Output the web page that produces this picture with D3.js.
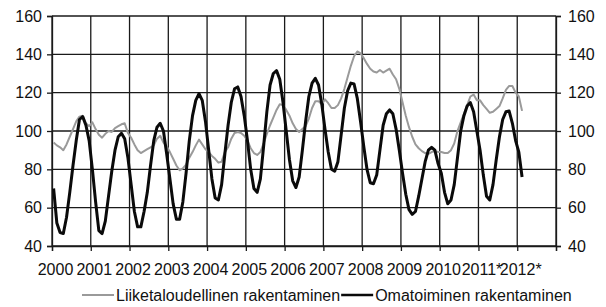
<!DOCTYPE html>
<html>
<head>
<meta charset="utf-8">
<script src="https://cdn.jsdelivr.net/npm/d3@7"></script>
<style>
html,body{margin:0;padding:0;background:#fff;}
svg{display:block;font-family:"Liberation Sans",Arial,sans-serif;}
</style>
</head>
<body>
<svg id="chart" width="606" height="307"></svg>
<script>
// ---- data ----
const yearLabels = ["2000","2001","2002","2003","2004","2005","2006","2007","2008","2009","2010","2011*","2012*"];
const yTicks = [40,60,80,100,120,140,160];
const seriesNames = ["Liiketaloudellinen rakentaminen","Omatoiminen rakentaminen"];
// monthly index values, Jan 2000 - Feb 2012
const liiketaloudellinen = [
94,92.5,91.5,90,93,97,101,105,107.5,108,104,102.5,
104.5,101,98,96.5,98.5,100,99.5,101.5,102.5,103.5,104,99,
96.5,93,90,88.5,89.5,90.5,91.5,92.5,96,97.5,94,92,
89,85.5,82,79.5,80.5,82.5,86,89,92.5,95.5,93,90.5,
89,87,85.5,83.5,84,89,91.5,96,99,99.5,99,97.5,
95,91,88.5,87.5,89,93.5,98.5,103,107,111,114,113.5,
111,108,104,101,99.5,101,102.5,106.5,112,115.5,115.5,114,
116.5,114.5,112,112,113.5,117,122,128,134,139,141.5,140.5,
138,135,132.5,131,130.5,131.8,130.5,131.5,132.5,129.5,127,122,
115,108,102,97,93,91,89.5,88.5,88,89,89.5,89,
89,88.5,88.5,90,93.5,100,104.5,109,113.5,118,119,116,
116,113.5,111.5,109.5,110,111.5,113,117,121.5,123.5,123.5,120,
118,110.5
];
const omatoiminen = [
70,52,47,46.5,55,68,82,95,106,107.5,103,95,
80,63,48,46.5,53,66,79,90,97,98.8,96,86,
72,58,50,50,58,68,82,95,102,104,100,88,
75,62,54,54,63,78,95,108,116,119.5,116,105,
90,75,65,64,72,88,103,115,122,123,118,108,
95,80,70,68,75,92,110,124,130,131.5,127,115,
100,85,74,70.5,76,90,105,118,125,127.5,124,114,
101,89,80,79,84,98,112,121,125,124.5,117,105,
92,80,73,72.5,77,90,103,109,111,109,101,90,
78,67,59,56.5,58,66,75,84,90,91.5,90,83,
78,68,62,64,72,86,100,108,113,114.8,110,100,
90,77,66,64,72,85,97,106,110,110.4,104,95,
89,76
];

(function () {
  const svg = d3.select("#chart");
  const pL = 52, pR = 556, pT = 16, pB = 246;
  const nMonths = yearLabels.length * 12;
  const x = d3.scaleLinear().domain([0, nMonths]).range([pL, pR]);
  const y = d3.scaleLinear().domain([40, 160]).range([pB, pT]);
  const ink = "#1a1a1a";

  // gridlines
  const grid = svg.append("g");
  grid.selectAll("line.h").data(yTicks).join("line")
    .attr("x1", pL).attr("x2", pR)
    .attr("y1", d => y(d)).attr("y2", d => y(d))
    .attr("stroke", ink).attr("stroke-width", 1.3);
  const yearIdx = d3.range(0, nMonths + 1, 12);
  grid.selectAll("line.v").data(yearIdx).join("line")
    .attr("x1", d => x(d)).attr("x2", d => x(d))
    .attr("y1", pT).attr("y2", pB)
    .attr("stroke", ink).attr("stroke-width", 1.3);

  // axes
  const fs = "16px";
  const axL = svg.append("g").attr("transform", `translate(${pL},0)`)
    .call(d3.axisLeft(y).tickValues(yTicks).tickSize(5).tickPadding(5));
  const axR = svg.append("g").attr("transform", `translate(${pR},0)`)
    .call(d3.axisRight(y).tickValues(yTicks).tickSize(5).tickPadding(7));
  const axB = svg.append("g").attr("transform", `translate(0,${pB})`)
    .call(d3.axisBottom(x).tickValues(yearIdx).tickSize(5).tickPadding(13)
      .tickFormat((d, i) => i < yearLabels.length ? yearLabels[i] : ""));
  [axL, axR, axB].forEach(a => {
    a.select(".domain").attr("stroke", ink).attr("stroke-width", 1.3);
    a.selectAll(".tick line").attr("stroke", ink).attr("stroke-width", 1.3);
    a.selectAll("text").attr("fill", "#111").style("font-size", fs)
      .style("font-family", '"Liberation Sans",Arial,sans-serif');
  });
  axB.selectAll("text").attr("dx", 3);

  // lines
  const line = d3.line().x((d, i) => x(i + 0.5)).y(d => y(d));
  svg.append("path").datum(liiketaloudellinen)
    .attr("fill", "none").attr("stroke", "#9a9a9a").attr("stroke-width", 2)
    .attr("stroke-linejoin", "round").attr("d", line);
  svg.append("path").datum(omatoiminen)
    .attr("fill", "none").attr("stroke", "#0a0a0a").attr("stroke-width", 3)
    .attr("stroke-linejoin", "round").attr("d", line);

  // legend
  const lg = svg.append("g").style("font-size", fs).attr("fill", "#111");
  let lx = 82;
  const ly = 295;
  const styles = [{c: "#9a9a9a", w: 2}, {c: "#0a0a0a", w: 2.5}];
  seriesNames.forEach((name, k) => {
    lg.append("line").attr("x1", lx).attr("x2", lx + 32).attr("y1", ly).attr("y2", ly)
      .attr("stroke", styles[k].c).attr("stroke-width", styles[k].w);
    const t = lg.append("text").attr("x", lx + 34).attr("y", ly + 5.5).text(name);
    lx = lx + 34 + t.node().getComputedTextLength() + 1;
  });
})();
</script>
</body>
</html>
